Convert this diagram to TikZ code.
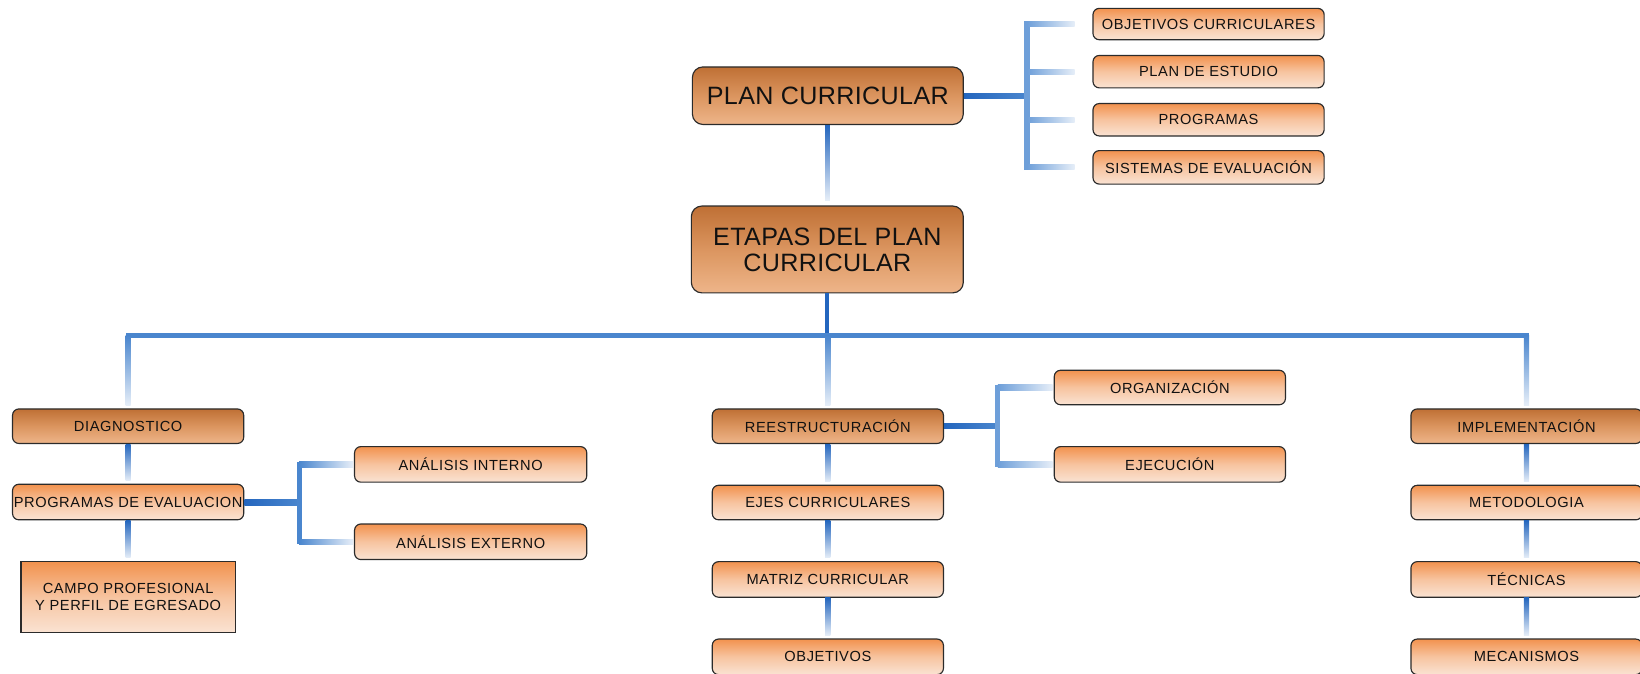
\documentclass[tikz,border=0pt]{standalone}
\usepackage{fontspec}
\setmainfont{Liberation Sans}
\newfontfamily\boxfont[LetterSpace=4]{Liberation Sans}
\newfontfamily\bigfont[LetterSpace=1.5]{Liberation Sans}
\definecolor{cdark}{HTML}{2466BE}
\definecolor{cmid}{HTML}{4A86CE}
\definecolor{cspine}{HTML}{6E9FD9}
\definecolor{cfade}{HTML}{E6EEF8}
\definecolor{lt1}{HTML}{F2924E}
\definecolor{lt2}{HTML}{F7C4A0}
\definecolor{lt3}{HTML}{FAE3D3}
\definecolor{dk1}{HTML}{BF7035}
\definecolor{dk2}{HTML}{DB955F}
\definecolor{dk3}{HTML}{EEB58A}
\definecolor{boxline}{HTML}{2B2B2B}
\definecolor{txt}{HTML}{111111}
\newcommand\VConn[2]{\shade[top color=cdark, bottom color=cfade] ([xshift=-2.5pt]#1.south) rectangle ([xshift=2.5pt,yshift=3pt]#2.north);}
\begin{document}
\begin{tikzpicture}[x=1pt,y=-1pt,
  box/.style={draw=boxline, line width=1.1pt, rounded corners=6pt, inner sep=0pt, text=txt,
    font=\boxfont\fontsize{14}{16}\selectfont, minimum width=221pt, minimum height=33pt, align=center},
  light/.style={box, top color=lt1, bottom color=lt3, middle color=lt2},
  dark/.style={box, top color=dk1, bottom color=dk3, middle color=dk2},
  big/.style={dark, rounded corners=10pt, minimum width=259pt, font=\bigfont\fontsize{24}{25}\selectfont}]
\useasboundingbox (0,0) rectangle (1568,644);

% nodes
\node[big, minimum height=55pt] (plan) at (791.5,91.5) {PLAN CURRICULAR};
\node[big, minimum width=260pt, minimum height=83pt] (etapas) at (791,238.5) {ETAPAS DEL PLAN\\CURRICULAR};
\node[light, minimum height=30pt] (obj) at (1155.5,23) {OBJETIVOS CURRICULARES};
\node[light, minimum height=31pt] (pde) at (1155.5,68.5) {PLAN DE ESTUDIO};
\node[light, minimum height=31pt] (prog) at (1155.5,114.5) {PROGRAMAS};
\node[light, minimum height=32pt] (sis) at (1155.5,160) {SISTEMAS DE EVALUACIÓN};

\node[dark] (diag) at (122.5,407.5) {DIAGNOSTICO};
\node[light, minimum height=34pt] (pev) at (122.5,480) {PROGRAMAS DE EVALUACION};
\node[light, rounded corners=0pt, line width=1.3pt, minimum width=205pt, minimum height=68pt] (campo) at (122.5,571) {CAMPO PROFESIONAL\\Y PERFIL DE EGRESADO};
\node[light, minimum width=222pt, minimum height=34pt] (ai) at (450,444) {ANÁLISIS INTERNO};
\node[light, minimum width=222pt, minimum height=34pt] (ae) at (450,518) {ANÁLISIS EXTERNO};

\node[dark] (rees) at (791.5,407.5) {REESTRUCTURACIÓN};
\node[light] (ejes) at (791.5,480.5) {EJES CURRICULARES};
\node[light, minimum height=34pt] (matriz) at (791.5,554) {MATRIZ CURRICULAR};
\node[light, minimum height=34pt] (objv) at (791.5,628) {OBJETIVOS};
\node[light] (org) at (1118.5,370.5) {ORGANIZACIÓN};
\node[light, minimum height=34pt] (eje) at (1118.5,444) {EJECUCIÓN};

\node[dark] (impl) at (1459.5,407.5) {IMPLEMENTACIÓN};
\node[light] (metod) at (1459.5,480.5) {METODOLOGIA};
\node[light, minimum height=34pt] (tec) at (1459.5,554) {TÉCNICAS};
\node[light, minimum height=34pt] (mec) at (1459.5,628) {MECANISMOS};

% plan -> etapas
\shade[top color=cdark, bottom color=cfade] ([xshift=-2.5pt]plan.south) rectangle ([xshift=2.5pt,yshift=5pt]etapas.north);

% plan bracket
\coordinate (pspine) at (982,92);
\shade[left color=cdark, right color=cmid] ([yshift=2.5pt]plan.east) rectangle ([yshift=-2.5pt]pspine);
\fill[cspine] ([xshift=-2.5pt,yshift=2.5pt]pspine |- obj) rectangle ([xshift=2.5pt,yshift=-2.5pt]pspine |- sis);
\foreach \n in {obj,pde,prog,sis}
  \shade[left color=cspine, right color=cfade] ([yshift=2.5pt]pspine |- \n) rectangle ([xshift=-17pt,yshift=-2.5pt]\n.west);

% trunk
\coordinate (tr) at (790,321);
\fill[cdark] ([xshift=-2.5pt]etapas.south) rectangle ([xshift=2.5pt]tr);
\fill[cmid] ([xshift=-2.5pt,yshift=2.5pt]tr -| diag) rectangle ([xshift=2.5pt,yshift=-2.5pt]tr -| impl);
\foreach \n in {diag,rees,impl}
  \shade[top color=cmid, bottom color=cfade] ([xshift=-2.5pt]tr -| \n) rectangle ([xshift=2.5pt,yshift=3pt]\n.north);

% vertical chains
\VConn{diag}{pev}
\VConn{pev}{campo}
\VConn{rees}{ejes}
\VConn{ejes}{matriz}
\VConn{matriz}{objv}
\VConn{impl}{metod}
\VConn{metod}{tec}
\VConn{tec}{mec}

% pev bracket
\coordinate (espine) at (286,481);
\shade[left color=cdark, right color=cmid] ([yshift=2.5pt]pev.east) rectangle ([yshift=-2.5pt]espine);
\fill[cmid] ([xshift=-2.5pt,yshift=2.5pt]espine |- ai) rectangle ([xshift=2.5pt,yshift=-2.5pt]espine |- ae);
\foreach \n in {ai,ae}
  \shade[left color=cmid, right color=cfade] ([yshift=2.5pt]espine |- \n) rectangle ([xshift=-1pt,yshift=-2.5pt]\n.west);

% rees bracket
\coordinate (rspine) at (954,407);
\shade[left color=cdark, right color=cmid] ([yshift=2.5pt]rees.east) rectangle ([yshift=-2.5pt]rspine);
\fill[cspine] ([xshift=-2.5pt,yshift=2.5pt]rspine |- org) rectangle ([xshift=2.5pt,yshift=-2.5pt]rspine |- eje);
\foreach \n in {org,eje}
  \shade[left color=cspine, right color=cfade] ([yshift=2.5pt]rspine |- \n) rectangle ([xshift=-1pt,yshift=-2.5pt]\n.west);
\end{tikzpicture}
\end{document}
